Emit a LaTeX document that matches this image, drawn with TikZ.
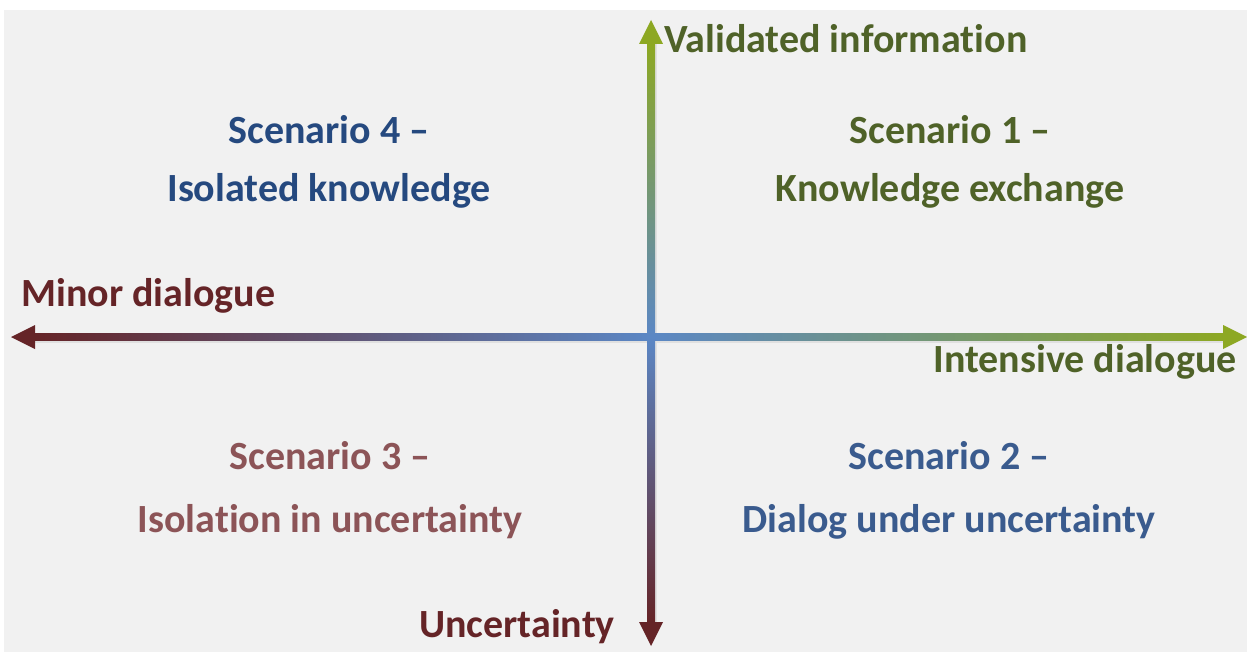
\documentclass[tikz,border=0pt]{standalone}
\usepackage{fontspec}
\setmainfont{Carlito}[Ligatures={NoCommon}]
\usetikzlibrary{positioning}
\definecolor{paper}{HTML}{F1F1F1}
\definecolor{axisred}{HTML}{652427}
\definecolor{axisblue}{HTML}{5B87C5}
\definecolor{axisgreen}{HTML}{8DA823}
\definecolor{olive}{HTML}{4F6228}
\definecolor{navy}{HTML}{25497F}
\definecolor{steel}{HTML}{3A5B8E}
\definecolor{rose}{HTML}{8C5457}
\tikzstyle{label} = [inner sep=0pt, font=\fontsize{40}{48}\selectfont\bfseries]
\tikzstyle{quadrant} = [label, align=center]
\tikzstyle{shadow} = [black!12]

\begin{document}
\begin{tikzpicture}[x=1pt, y=-1pt]
    \useasboundingbox (0, 0) rectangle (1247, 652);
    \fill [paper] (4, 10) rectangle (1247, 652);

    % Axis ends.
    \coordinate (origin) at (651, 337);
    \coordinate (west) at (11, 337);
    \coordinate (east) at (1247, 337);
    \coordinate (north) at (651, 20);
    \coordinate (south) at (651, 646);
    \coordinate (west base) at (35, 337);
    \coordinate (east base) at (1223, 337);
    \coordinate (north base) at (651, 44);
    \coordinate (south base) at (651, 622);

    % Shadows.
    \fill [shadow] ([yshift=-1]west base) rectangle ([yshift=-6]east base);
    \fill [shadow] ([xshift=2]north base) rectangle ([xshift=6]south base);

    % Horizontal axis.
    \shade [left color=axisred, right color=axisblue]
        ([yshift=-3.5]west base) rectangle ([yshift=3.5]origin);
    \shade [left color=axisblue, right color=axisgreen]
        ([yshift=-3.5]origin) rectangle ([yshift=3.5]east base);
    \fill [axisred] (west) -- ([yshift=-12]west base) -- ([yshift=12]west base) -- cycle;
    \fill [axisgreen] (east) -- ([yshift=-12]east base) -- ([yshift=12]east base) -- cycle;

    % Vertical axis.
    \shade [top color=axisgreen, bottom color=axisblue]
        ([xshift=-4]north base) rectangle ([xshift=4]origin);
    \shade [top color=axisblue, bottom color=axisred]
        ([xshift=-4]origin) rectangle ([xshift=4]south base);
    \fill [axisgreen] (north) -- ([xshift=-12]north base) -- ([xshift=12]north base) -- cycle;
    \fill [axisred] (south) -- ([xshift=-12]south base) -- ([xshift=12]south base) -- cycle;

    % Axis labels.
    \node (validated) [label, olive, anchor=west] at (664, 39) {Validated information};
    \node (minor) [label, axisred, anchor=west] at (21, 296) {Minor dialogue};
    \node (intensive) [label, olive, anchor=east] at (1237, 362) {Intensive dialogue};
    \node (uncertainty) [label, axisred, anchor=east] at (615, 627) {Uncertainty};

    % Scenarios.
    \node (scenario 4) [quadrant, navy] at (329, 162) {Scenario 4 --\\[10pt] Isolated knowledge};
    \node (scenario 1) [quadrant, olive] at (950, 162) {Scenario 1 --\\[10pt] Knowledge exchange};
    \node (scenario 3) [quadrant, rose] at (330, 490) {Scenario 3 --\\[15pt] Isolation in uncertainty};
    \node (scenario 2) [quadrant, steel] at (949, 490) {Scenario 2 --\\[15pt] Dialog under uncertainty};
\end{tikzpicture}
\end{document}
